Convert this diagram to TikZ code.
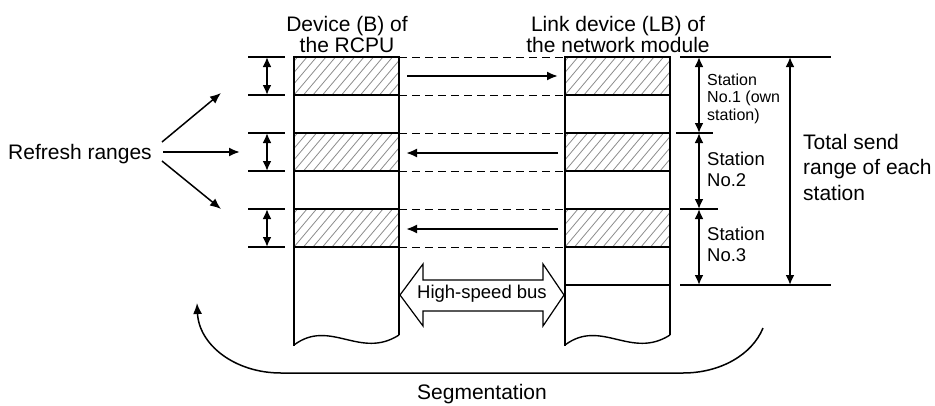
\documentclass[tikz,border=0pt]{standalone}
\usepackage{fontspec}
\setmainfont{Liberation Sans}
\usetikzlibrary{arrows.meta}
\begin{document}
\begin{tikzpicture}[x=1pt,y=-1pt,
  wall/.style={line width=2pt},
  guide/.style={line width=1pt,dash pattern=on 8pt off 5pt},
  hatchline/.style={line width=0.8pt,black!45},
  wave/.style={line width=1.4pt},
  arr/.style={line width=2pt,-{Latex[length=11pt,width=9pt]}},
  thinarr/.style={line width=1.5pt,-{Latex[length=11pt,width=9pt]}},
  darr/.style={line width=2pt,{Latex[length=10pt,width=9pt]}-{Latex[length=10pt,width=9pt]}},
  big/.style={font=\fontsize{21}{25.5}\selectfont},
  title/.style={font=\fontsize{21}{21}\selectfont,align=center},
  mid/.style={font=\fontsize{18.5}{21}\selectfont,align=left},
  small/.style={font=\fontsize{16}{17.5}\selectfont,align=left},
]
\useasboundingbox (0,0) rectangle (935,405);

% hatched refresh rows in both device columns
\foreach \cx in {294,565}{
  \foreach \ry in {57,133,209}{
    \begin{scope}
      \clip (\cx,\ry) rectangle ++(105,38);
      \foreach \k in {-4,...,12}
        \draw[hatchline] (\cx+\k*9.5,\ry+38) -- ++(32,-38);
    \end{scope}
  }
}

% dashed correspondence lines between the columns
\foreach \ry in {57,95,133,171,209,247}
  \draw[guide] (399,\ry) -- (565,\ry);

% high-speed bus double arrow
\draw[line width=1.2pt,fill=white,line join=miter]
  (400,295) -- (423,264) -- (423,280) -- (543,280) -- (543,264) -- (564,295)
  -- (543,326) -- (543,311) -- (423,311) -- (423,326) -- cycle;
\node[mid,anchor=base] (bus) at (482,298) {High-speed bus};

% device column of the RCPU
\draw[wall] (294,346) -- (294,57) -- (399,57) -- (399,335);
\draw[wave] (294,345) .. controls (330,318) and (360,360) .. (399,335);
\foreach \ry in {95,133,171,209,247}
  \draw[wall] (294,\ry) -- (399,\ry);

% link device column of the network module
\draw[wall] (565,346) -- (565,57) -- (670,57) -- (670,335);
\draw[wave] (565,345) .. controls (601,318) and (631,360) .. (670,335);
\foreach \ry in {95,133,171,209,247,285}
  \draw[wall] (565,\ry) -- (670,\ry);

% column titles (base anchor sits on the last line)
\node[title,anchor=base] (devB) at (347,52) {Device (B) of\\the RCPU};
\node[title,anchor=base] (devLB) at (618,52) {Link device (LB) of\\the network module};

% transfer arrows
\coordinate (l1) at (407,76);  \coordinate (r1) at (558,76);
\coordinate (l2) at (406,153); \coordinate (r2) at (558,153);
\coordinate (l3) at (406,229); \coordinate (r3) at (558,229);
\draw[arr] (l1) -- (r1);
\draw[arr] (r2) -- (l2);
\draw[arr] (r3) -- (l3);

% refresh range markers
\foreach \ry in {57,133,209}{
  \draw[wall] (248,\ry) -- (285,\ry);
  \draw[wall] (248,\ry+38) -- (285,\ry+38);
  \draw[darr] (267,\ry) -- (267,\ry+38);
}

% refresh ranges label and pointers
\node[big,anchor=base west,inner sep=0pt] (rr) at (8,159) {Refresh ranges};
\coordinate (rrA) at (162,142); \coordinate (tA) at (221,93);
\coordinate (rrB) at (163,152); \coordinate (tB) at (240,152);
\coordinate (rrC) at (162,161); \coordinate (tC) at (221,209);
\draw[thinarr] (rrA) -- (tA);
\draw[arr] (rrB) -- (tB);
\draw[thinarr] (rrC) -- (tC);

% station send ranges
\draw[wall] (680,57) -- (831,57);
\draw[wall] (676,133) -- (713,133);
\draw[wall] (680,209) -- (718,209);
\draw[wall] (680,285) -- (831,285);
\draw[darr] (699,57) -- (699,133);
\draw[darr] (699,133) -- (699,209);
\draw[darr] (699,209) -- (699,285);
\draw[darr] (790,57) -- (790,285);

\node[small,anchor=base west,inner sep=0pt] (st1) at (707,120) {Station\\No.1 (own\\station)};
\node[mid,anchor=base west,inner sep=0pt] (st2) at (707,186) {Station\\No.2};
\node[mid,anchor=base west,inner sep=0pt] (st3) at (707,261) {Station\\No.3};
\node[big,anchor=base west,inner sep=0pt,align=left] (tot) at (803,200) {Total send\\range of each\\station};

% segmentation bracket
\coordinate (segL) at (197,303);
\coordinate (segR) at (763,328);
\draw[line width=1.5pt,{Latex[length=11pt,width=9pt]}-]
  (segL) .. controls (199,345) and (235,373) .. (281,373)
  -- (683,373) .. controls (720,373) and (752,355) .. (segR);
\node[big,anchor=base] (seg) at (482,399) {Segmentation};
\end{tikzpicture}
\end{document}
